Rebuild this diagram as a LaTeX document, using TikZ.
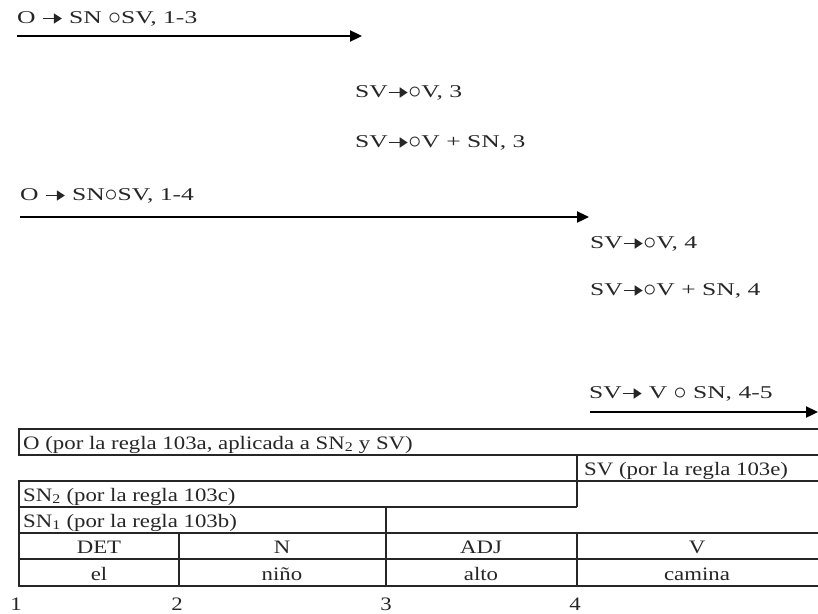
\documentclass[tikz,border=0pt]{standalone}
\usepackage{fontspec}
\setmainfont{Liberation Serif}
\newfontfamily\topfont[FakeStretch=1.42]{Liberation Serif}
\newfontfamily\tabfont[FakeStretch=1.2]{Liberation Serif}
\usetikzlibrary{arrows.meta}
\newcommand{\rar}{\tikz[baseline=-4.5pt]\draw[line width=1.6pt,-{Triangle[length=8pt,width=10pt]}](0,0)--(19pt,0);}
\newcommand{\cir}{\raisebox{-0.2ex}{\scalebox{1.5}{$\circ$}}}
\begin{document}
\begin{tikzpicture}[x=1pt,y=-1pt,
  lbl/.style={anchor=base west, inner sep=0pt, text=black!85, font=\topfont\fontsize{18}{20}\selectfont},
  cell/.style={anchor=base, inner sep=0pt, text=black!85, font=\tabfont\fontsize{19}{21}\selectfont},
  cellw/.style={cell, anchor=base west},
  bigarrow/.style={line width=2.3pt, -{Triangle[length=12pt,width=11pt]}},
  tline/.style={line width=1.3pt, black!85}]
\useasboundingbox (0,0) rectangle (818,613);
% derivation labels
\node[lbl] (r1) at (17,23) {O \rar{} SN \cir SV, 1-3};
\coordinate (a1s) at (17,36);
\coordinate (a1e) at (362,36);
\draw[bigarrow] (a1s) -- (a1e);
\node[lbl] (r2) at (355,97) {SV\rar\cir V, 3};
\node[lbl] (r3) at (355,147) {SV\rar\cir V + SN, 3};
\node[lbl] (r4) at (20,200) {O \rar{} SN\cir SV, 1-4};
\coordinate (a2s) at (20,217);
\coordinate (a2e) at (589,217);
\draw[bigarrow] (a2s) -- (a2e);
\node[lbl] (r5) at (590,248) {SV\rar\cir V, 4};
\node[lbl] (r6) at (590,295) {SV\rar\cir V + SN, 4};
\node[lbl] (r7) at (589,398) {SV\rar{} V \cir{} SN, 4-5};
\coordinate (a3s) at (590,412);
\coordinate (a3e) at (818,412);
\draw[bigarrow] (a3s) -- (a3e);
% table
\draw[tline] (818,429) -- (19,429) -- (19,455) -- (818,455);
\draw[tline] (577,455) -- (577,507);
\draw[tline] (818,481) -- (19,481) -- (19,586) -- (818,586);
\draw[tline] (19,507) -- (577,507);
\draw[tline] (19,533) -- (818,533);
\draw[tline] (19,559) -- (818,559);
\draw[tline] (386,507) -- (386,586);
\draw[tline] (179,533) -- (179,586);
\draw[tline] (577,533) -- (577,586);
\node[cellw] (tO) at (23,449) {O (por la regla 103a, aplicada a SN\textsubscript{2} y SV)};
\node[cellw] (tSV) at (584,475) {SV (por la regla 103e)};
\node[cellw] (tSN2) at (23,501) {SN\textsubscript{2} (por la regla 103c)};
\node[cellw] (tSN1) at (23,527) {SN\textsubscript{1} (por la regla 103b)};
\node[cell] (cDET) at (99,553) {DET};
\node[cell] (cN) at (282,553) {N};
\node[cell] (cADJ) at (481,553) {ADJ};
\node[cell] (cV) at (697,553) {V};
\node[cell] (wel) at (99,580) {el};
\node[cell] (wnino) at (282,580) {niño};
\node[cell] (walto) at (481,580) {alto};
\node[cell] (wcamina) at (697,580) {camina};
\node[cell] (n1) at (16,610) {1};
\node[cell] (n2) at (177,610) {2};
\node[cell] (n3) at (386,610) {3};
\node[cell] (n4) at (575,610) {4};
\end{tikzpicture}
\end{document}
